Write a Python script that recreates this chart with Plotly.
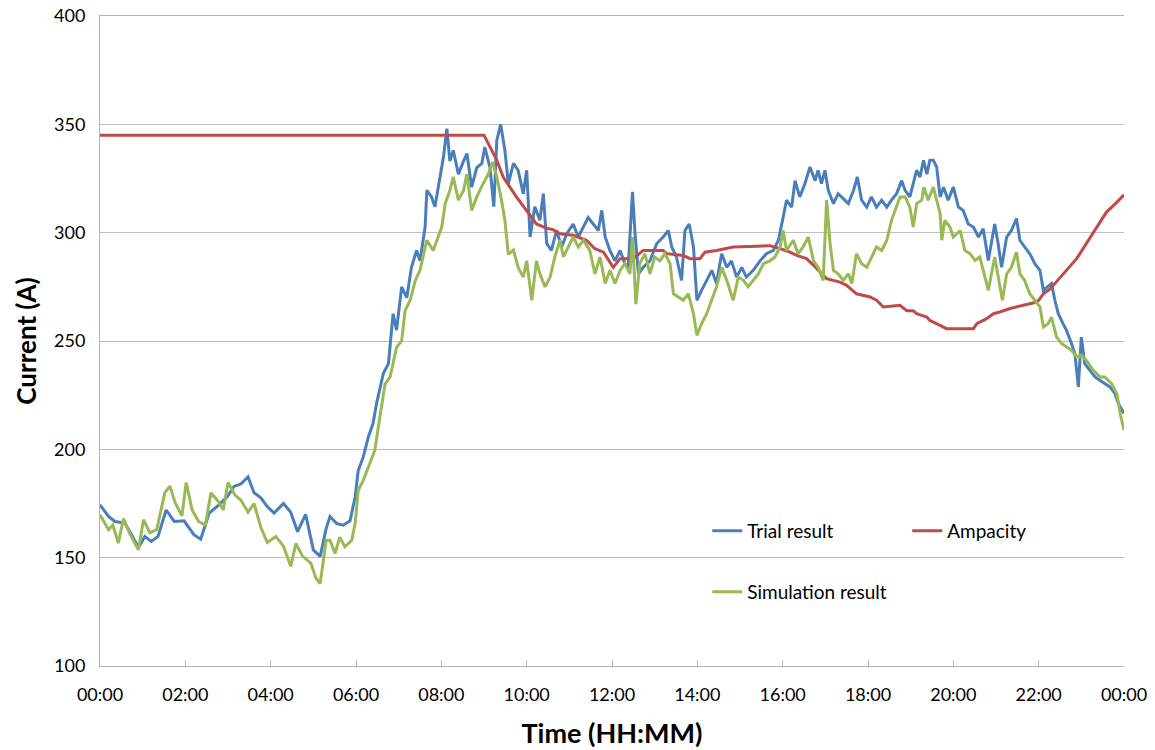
import plotly.graph_objects as go

# ---- data (hours since midnight, current in A) ----
t_trial = [0.0,0.2,0.35,0.58,0.74,0.9,1.05,1.2,1.36,1.55,1.74,1.97,2.2,2.36,2.56,2.79,2.99,3.14,3.3,3.47,3.61,3.77,3.92,4.08,4.3,4.47,4.63,4.82,5.0,5.16,5.3,
           5.39,5.55,5.7,5.86,5.98,6.05,6.17,6.29,6.4,6.48,6.64,6.76,6.87,6.95,7.07,7.19,7.3,7.42,7.5,7.62,7.66,7.77,7.85,7.97,8.05,8.13,8.2,8.28,8.4,8.52,8.6,8.71,8.83,8.95,9.02,9.14,9.23,9.3,9.39,9.49,9.57,9.69,9.8,9.92,10.0,10.08,10.19,
           10.31,10.39,10.47,10.58,10.7,10.82,10.94,11.09,11.21,11.33,11.44,11.56,11.68,11.76,11.84,11.95,12.07,12.19,12.3,12.38,12.48,12.54,12.62,12.73,12.89,13.05,13.2,13.32,13.4,13.51,13.63,13.71,13.81,13.91,13.99,14.1,14.22,14.34,14.45,14.57,14.69,14.8,14.92,15.04,15.15,15.31,15.47,15.62,15.78,15.9,
           16.01,16.09,16.21,16.29,16.4,16.52,16.64,16.76,16.83,16.91,16.99,17.07,17.19,17.3,17.42,17.54,17.66,17.75,17.85,17.97,18.08,18.2,18.32,18.44,18.55,18.67,18.79,18.87,18.98,19.06,19.14,19.22,19.3,19.38,19.45,19.53,19.61,19.69,19.77,19.88,20.0,20.12,20.23,20.35,20.47,20.59,
           20.7,20.82,20.97,21.05,21.13,21.25,21.36,21.48,21.56,21.67,21.79,21.91,22.03,22.11,22.22,22.3,22.38,22.46,22.57,22.65,22.77,22.85,22.93,23.0,23.08,23.2,23.32,23.44,23.55,23.67,23.79,23.87,24.0]
trial = [174.4,169,166.7,166,160.6,154.6,159.8,157.5,159.8,172,166.7,167,160.6,158.5,170.6,174.4,178.3,182.9,184,187.3,180,177.6,173.6,170.6,175,171,162,170,153.6,150.6,163.4,
         169,165.7,165,167,178,190,196.5,205.7,212,221,235,239.5,262.6,255,275,270,284,291.8,287,302.6,319.5,316.5,312,325.7,335,348,333,338,327,333,336.5,321,330,332,339.5,330,312,342.6,350,338,322.6,332,328.8,318,328.8,298,312,
         305.7,318,295,291.8,301,293.4,299.5,304,298,302.6,307,304,301,310.3,298,291.8,287,291.8,285.7,284,318.8,299.5,281,284,287,295,298,301,293.4,288.8,278,301,304,293.4,268.8,273.4,278,282.6,276.5,290.3,284,287,279.5,284,279.5,282.6,287,290.3,291.8,296.5,
         307,315,311.8,324,316.5,322.6,330.3,324,328.8,322.6,328.8,319.5,313.4,318,315.7,313.4,319.5,325.7,315,311.8,316.5,311.8,315,311.8,315,318,324,319.5,316.5,322.6,328.8,325.7,333.4,327,333.4,333.4,330.3,316.5,321,315,321,311.8,310.3,304,302.6,298,
         301.8,287.2,304,295,284,298,301,306.5,296.5,293.4,290.3,285.7,282.6,273.4,275,276.5,268.8,262.6,258,255,248.8,244,228.8,251.8,239.5,236.5,233.4,231.8,230.3,228.8,225.7,221,216.5]

t_amp = [0,9.0,9.3,9.45,9.76,10.0,10.23,10.47,10.62,10.78,11.09,11.4,11.6,11.8,12.03,12.19,12.5,12.73,13.2,13.28,13.67,13.83,14.06,14.18,14.45,14.84,15.7,15.94,16.17,16.33,16.56,16.72,17.03,17.34,17.5,17.73,18.05,18.2,18.36,18.75,18.91,19.06,19.14,19.38,19.45,19.69,19.84,20.47,20.55,20.78,20.94,21.09,21.33,21.64,21.87,22.0,22.11,22.27,22.42,22.65,22.89,23.12,23.36,23.59,23.83,24.0]
ampacity = [345,345,333.4,325.7,316.5,310.3,304,302,301.4,299.5,298.8,296.5,292.6,291,284,288,288,291.8,291.8,290.3,289.5,288,288,291,291.8,293.4,294,292.6,291,289.5,288,285,278.8,277.2,275.7,271.8,270.3,268.8,265.7,266.5,264,264,262.6,261,259.5,257.2,255.7,255.7,258,260.3,262.6,263.4,265,266.5,267.5,268.8,271.8,274,277.2,282.6,288,295,302.6,309.5,314,317.5]

t_sim = [0.0,0.2,0.3,0.43,0.55,0.7,0.9,1.02,1.17,1.33,1.52,1.64,1.76,1.92,2.02,2.16,2.31,2.47,2.6,2.77,2.89,3.0,3.16,3.3,3.47,3.61,3.77,3.92,4.12,4.3,4.47,4.59,4.75,4.94,5.06,5.16,5.3,
         5.39,5.51,5.62,5.74,5.9,5.98,6.05,6.17,6.29,6.44,6.56,6.68,6.8,6.95,7.07,7.15,7.27,7.39,7.5,7.66,7.81,7.93,8.01,8.09,8.2,8.28,8.4,8.52,8.6,8.71,8.83,8.98,9.1,9.2,9.3,9.41,9.49,9.57,9.69,9.8,9.92,10.0,10.12,10.23,
         10.31,10.43,10.55,10.66,10.78,10.86,10.98,11.09,11.21,11.33,11.48,11.6,11.72,11.84,11.95,12.07,12.19,12.3,12.42,12.48,12.56,12.65,12.77,12.89,13.0,13.12,13.24,13.36,13.44,13.55,13.67,13.79,13.91,13.99,14.1,14.22,14.34,14.45,14.57,14.69,14.84,14.96,15.08,15.19,15.31,15.43,15.55,15.7,15.82,15.94,
         16.01,16.09,16.25,16.36,16.48,16.6,16.72,16.83,16.95,17.03,17.11,17.19,17.3,17.42,17.54,17.62,17.73,17.85,17.97,18.08,18.2,18.32,18.44,18.55,18.63,18.75,18.87,18.98,19.06,19.14,19.26,19.31,19.41,19.53,19.61,19.69,19.73,19.8,19.92,20.0,20.16,20.27,20.39,20.51,
         20.62,20.7,20.82,20.97,21.05,21.15,21.25,21.36,21.48,21.56,21.67,21.79,21.91,22.03,22.11,22.22,22.3,22.42,22.54,22.65,22.77,22.89,23.0,23.12,23.28,23.44,23.55,23.71,23.83,23.91,24.0]
simulation = [169.8,162.9,165,156.7,168,161,153.6,167.5,161.5,163,180,183,175.4,169.3,184.7,172,166.7,165,180,176,172,184.7,179,176.6,171,175,164,157,159.8,155.3,146,156.5,150.6,147.5,140.6,138,158,
              158,152,159.5,155,158,165.7,181,185.7,192,199.5,215,230,233.4,247,250,264,268.8,278,282.6,296.5,291.8,298,302.6,313.4,319.5,325.7,315,319.5,327,310.3,316.5,322.6,327,332.6,325.7,315,305.7,290,292,284,279.5,287,268.8,287,
              281,275,279.5,288.8,296.5,288.8,293.4,298,293.4,296.5,291.8,281,288.8,276.5,282.6,276.5,282.6,285.7,281,298,267,285.7,290.3,281,288.8,287,290.3,285.7,271.8,270.3,268.8,271.8,262.6,252.6,258,262.6,268.8,275,284,278,268.8,279.5,278,275,278,281,285.7,287,288.8,293.4,
              301,291.8,296.5,290.3,293.4,298,287.2,284,278,315,295,282.6,281,278,281,276.5,290.3,285.7,284,288.8,293.4,291.8,296.5,305.7,310.3,316.5,316.5,311.8,302.6,313.4,315,321,315,321,315,308.8,296.5,305.7,302.6,298,301,291.8,290.3,287.2,
              288.8,282.6,273.4,288.8,279.5,268.8,281,284,291,281,278,271.8,268.8,265.7,256.5,258,261,251.8,248.8,247.2,245.7,242.6,243.4,241,236.5,233.4,233.4,230.3,225.7,216.5,208.8]

x_tickvals = [0, 2, 4, 6, 8, 10, 12, 14, 16, 18, 20, 22, 24]
x_ticktext = ["00:00", "02:00", "04:00", "06:00", "08:00", "10:00", "12:00",
              "14:00", "16:00", "18:00", "20:00", "22:00", "00:00"]
y_tickvals = [100, 150, 200, 250, 300, 350, 400]

FONT = "Lato, 'Open Sans', sans-serif"
AXIS_GRAY = "#B4B4B4"

fig = go.Figure()
fig.add_trace(go.Scatter(x=t_trial, y=trial, mode="lines", name="Trial result",
                         line=dict(color="#4A7EBB", width=3), legend="legend"))
fig.add_trace(go.Scatter(x=t_amp, y=ampacity, mode="lines", name="Ampacity",
                         line=dict(color="#BE4B48", width=3), legend="legend"))
fig.add_trace(go.Scatter(x=t_sim, y=simulation, mode="lines", name="Simulation result",
                         line=dict(color="#98B954", width=3), legend="legend2"))

fig.update_layout(
    width=1155, height=750,
    margin=dict(l=100, r=31, t=16, b=84),
    paper_bgcolor="white", plot_bgcolor="white",
    font=dict(family=FONT, size=18, color="#000000"),
    showlegend=True,
    legend=dict(orientation="h", x=0.593, y=0.208, xanchor="left", yanchor="middle",
                entrywidth=155, entrywidthmode="pixels",
                font=dict(family=FONT, size=19, color="#000"), bgcolor="rgba(0,0,0,0)"),
    legend2=dict(orientation="h", x=0.593, y=0.114, xanchor="left", yanchor="middle",
                 font=dict(family=FONT, size=19, color="#000"), bgcolor="rgba(0,0,0,0)"),
    xaxis=dict(range=[0, 24], tickvals=x_tickvals, ticktext=x_ticktext, automargin=False,
               showgrid=False, zeroline=False, showline=True, linecolor=AXIS_GRAY, linewidth=1,
               mirror=True,
               ticks="inside", ticklen=6, tickcolor=AXIS_GRAY, ticklabelstandoff=12,
               tickfont=dict(family=FONT, size=18, color="#000"),
               title=dict(text="<b>Time (HH:MM)</b>", font=dict(family=FONT, size=27, color="#000"), standoff=20)),
    yaxis=dict(range=[100, 400], tickvals=y_tickvals, automargin=False,
               showgrid=True, gridcolor="#BFBFBF", gridwidth=1, zeroline=False,
               showline=True, linecolor=AXIS_GRAY, linewidth=1, ticks="", ticklabelstandoff=10,
               ticklabeloverflow="allow",
               tickfont=dict(family=FONT, size=18, color="#000"),
               title=dict(text="<b>Current (A)</b>", font=dict(family=FONT, size=26, color="#000"), standoff=9)),
)

fig.write_html("out.html", config={"displayModeBar": False})

# remove the default 8px page margin so the figure fills the window exactly
with open("out.html", "r", encoding="utf-8") as f:
    html = f.read()
html = html.replace("<head>", "<head><style>html,body{margin:0;padding:0;}</style>", 1)
with open("out.html", "w", encoding="utf-8") as f:
    f.write(html)
